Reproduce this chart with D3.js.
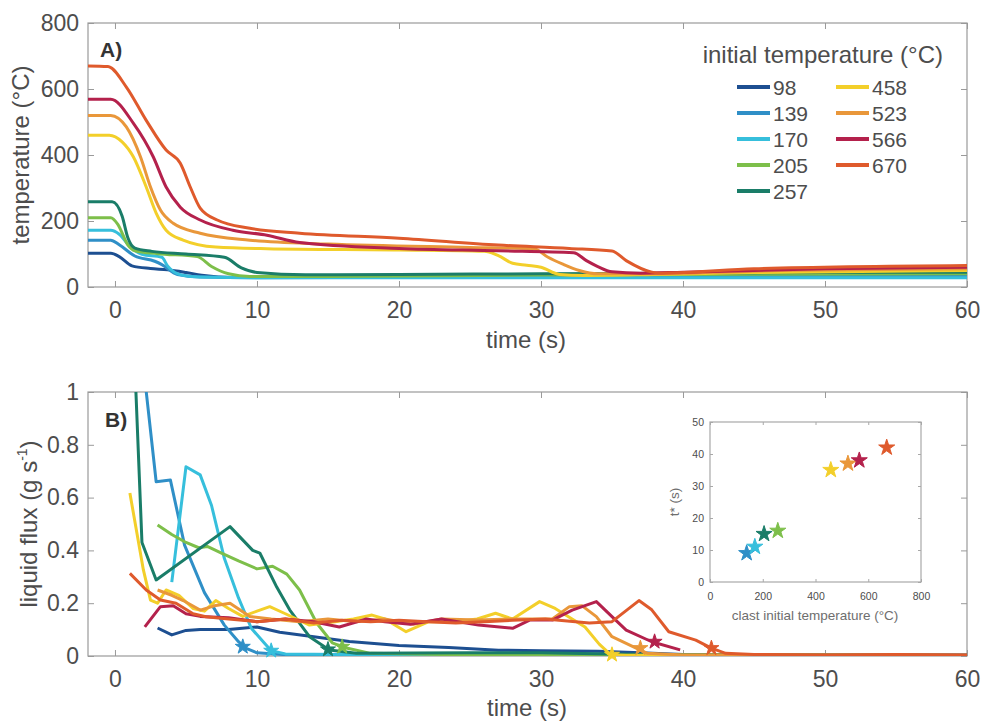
<!DOCTYPE html>
<html lang="en">
<head>
<meta charset="utf-8">
<title>Clast temperature and liquid flux</title>
<script src="https://cdn.jsdelivr.net/npm/d3@7"></script>
<style>
  body { margin: 0; background: #fff; }
  text { font-family: "Liberation Sans", Arial, Helvetica, sans-serif; fill: #4d4d4d; }
</style>
</head>
<body>
<svg class="chart" width="981" height="724"></svg>
<script>
// initial clast temperatures (legend) and their colours
var labels = ["98", "139", "170", "205", "257", "458", "523", "566", "670"];
var colors = ["#1d4f91", "#2f8fc7", "#36bfdc", "#7dbf4a", "#1a7d68",
              "#f3cf2a", "#e9973a", "#b4214c", "#df5a2c"];

// panel A: temperature (°C) vs time (s)
var temp98  = [[-1.9,102],[-0.3,102],[0.3,92],[1.2,64],[2.5,56],[3.7,52],[5,44],[6.1,36],[8.4,29],[12,30],[20,33],[30,34],[40,35],[50,35],[60,35]];
var temp139 = [[-1.9,142],[-0.3,142],[0.3,128],[1.4,94],[2.8,78],[3.3,68],[4.4,38],[6,30],[10,28],[20,29],[30,30],[40,31],[50,32],[60,32]];
var temp170 = [[-1.9,172],[-0.3,172],[0.3,160],[1,125],[1.9,99],[3.3,90],[3.7,64],[4.7,36],[6,30],[10,28],[30,28],[60,28]];
var temp205 = [[-1.9,210],[-0.3,210],[0.2,190],[0.9,128],[1.4,110],[3,101],[5.8,92],[6.8,62],[8,40],[9.5,32],[15,32],[30,36],[40,38],[60,40]];
var temp257 = [[-1.9,258],[-0.2,258],[0.5,215],[0.9,150],[1.4,118],[2.6,108],[5,100],[7.7,90],[8.9,58],[10,44],[13.4,37],[20,38],[30,40],[40,42],[50,44],[60,45]];
var temp458 = [[-1.9,460],[-0.4,460],[0.5,440],[1.3,394],[2.2,303],[2.9,224],[3.6,172],[4.8,142],[7.1,121],[10.7,116],[20,112],[26,108],[27,95],[28,72],[29,66],[30,60],[31.3,38],[33,35],[38,38],[45,44],[60,50]];
var temp523 = [[-1.9,520],[-0.3,520],[0.8,485],[1.8,394],[2.5,303],[3.2,233],[4.1,193],[6,163],[9.5,142],[15,130],[25,120],[29.5,116],[30.5,90],[31.5,70],[32.7,50],[34,40],[38,40],[45,48],[60,55]];
var temp566 = [[-1.9,569],[-0.3,569],[1.3,496],[2.7,394],[3.6,303],[4.6,242],[6,203],[8.3,172],[10.7,157],[13,135],[20,117],[27,110],[32.3,104],[33.2,80],[34,62],[35,46],[37,42],[40,45],[50,55],[60,60]];
var temp670 = [[-1.9,670],[-0.5,668],[0.8,606],[2.2,505],[3.6,415],[4.6,375],[5.3,303],[6,239],[7.2,203],[9.5,178],[13,163],[20,148],[27,127],[32,117],[35,109],[36,80],[37.8,45],[38.5,42],[45,55],[60,65]];

// panel B: liquid flux (g/s) vs time (s)
var flux98  = [[3,0.106],[4,0.08],[5,0.097],[6,0.1],[8,0.1],[10,0.11],[11.6,0.09],[14,0.073],[16.5,0.055],[20,0.04],[23.5,0.032],[27,0.022],[30,0.02],[34,0.018],[37,0.012],[40,0.006],[50,0.004],[60,0.004]];
var flux139 = [[2.1,1.05],[2.9,0.66],[3.9,0.667],[4.9,0.42],[6.3,0.24],[7.7,0.117],[8.7,0.054],[9.2,0.03],[10,0.012],[12,0.005],[20,0.003],[60,0.002]];
var flux170 = [[4.0,0.28],[5.0,0.717],[6.0,0.686],[6.8,0.57],[7.7,0.37],[8.7,0.22],[9.6,0.105],[10.5,0.05],[11,0.02],[12,0.008],[20,0.004],[60,0.002]];
var flux205 = [[3.0,0.496],[4,0.46],[5,0.43],[5.9,0.41],[6.5,0.415],[7.5,0.39],[8.7,0.36],[10,0.33],[11.1,0.34],[12.1,0.31],[13,0.25],[14.2,0.125],[15.3,0.05],[16.3,0.03],[18,0.01],[25,0.004],[60,0.002]];
var flux257 = [[1.4,1.1],[1.9,0.43],[2.9,0.288],[8.1,0.49],[9.7,0.4],[10.2,0.39],[11.4,0.26],[12.3,0.175],[13.7,0.073],[15.1,0.023],[17,0.01],[25,0.012],[30,0.012],[35,0.008],[40,0.005],[60,0.003]];
var flux458 = [[1.05,0.617],[2.0,0.326],[2.5,0.212],[3,0.2],[3.6,0.25],[4.5,0.23],[5.5,0.18],[6.3,0.17],[7.1,0.21],[8,0.18],[9,0.15],[10,0.17],[10.9,0.187],[12,0.16],[13.7,0.117],[15.5,0.13],[16.8,0.14],[18.1,0.155],[19,0.14],[20.5,0.092],[22.1,0.13],[24,0.13],[25.5,0.14],[26.8,0.162],[28,0.14],[29.9,0.206],[31,0.18],[33.1,0.11],[34.1,0.045],[34.9,0.005],[36,0.003],[60,0.002]];
var flux523 = [[3,0.25],[4,0.23],[4.8,0.21],[6,0.174],[7,0.19],[8.1,0.2],[9.5,0.15],[11,0.14],[13,0.13],[15,0.14],[17,0.13],[19,0.14],[21,0.12],[23,0.14],[25.6,0.136],[28,0.14],[30.8,0.14],[32,0.187],[32.9,0.19],[33.9,0.149],[35,0.073],[36.7,0.03],[37.5,0.01],[40,0.004],[60,0.003]];
var flux566 = [[2.1,0.11],[3.2,0.187],[4.1,0.19],[5,0.16],[6,0.15],[8,0.145],[10,0.13],[12,0.14],[14,0.13],[15.8,0.11],[17.7,0.14],[19,0.13],[20.8,0.12],[23,0.14],[25.6,0.117],[28,0.105],[29.2,0.136],[30.8,0.136],[32.2,0.174],[33.9,0.206],[35,0.149],[36,0.098],[37.8,0.054],[39.8,0.023]];
var flux670 = [[1.05,0.313],[2.2,0.25],[3.2,0.212],[4.3,0.2],[5.5,0.16],[6.4,0.149],[8,0.14],[10,0.13],[12,0.14],[14,0.125],[16,0.135],[18,0.13],[20,0.135],[22,0.13],[24,0.125],[26,0.13],[28,0.135],[30.3,0.14],[33.4,0.125],[35,0.13],[36.9,0.21],[37.8,0.175],[39,0.092],[40.9,0.06],[42,0.03],[43,0.01],[45,0.006],[50,0.004],[55,0.006],[60,0.004]];

// t* star markers (series index, time, flux)
var starSeries = [1, 2, 3, 4, 5, 6, 7, 8];
var starTime   = [9, 11, 16, 15, 35, 37, 38, 42];
var starFlux   = [0.035, 0.02, 0.035, 0.025, 0.005, 0.03, 0.054, 0.03];

// inset: t* vs clast initial temperature
var insetTemp   = [139, 170, 205, 257, 458, 523, 566, 670];
var insetTstar  = [9, 11, 15, 16, 35, 37, 38, 42];
var insetSeries = [1, 2, 4, 3, 5, 6, 7, 8];

var tempTicks = [0, 200, 400, 600, 800];
var fluxTicks = [0, 0.2, 0.4, 0.6, 0.8, 1];
var timeTicks = [0, 10, 20, 30, 40, 50, 60];
var insetXTicks = [0, 200, 400, 600, 800];
var insetYTicks = [0, 10, 20, 30, 40, 50];

var tempSeries = [temp98, temp139, temp170, temp205, temp257, temp458, temp523, temp566, temp670];
var fluxSeries = [flux98, flux139, flux170, flux205, flux257, flux458, flux523, flux566, flux670];

var svg = d3.select("svg.chart");
var left = 88, right = 967;

var x = d3.scaleLinear().domain([-1.9, 60]).range([left, right]);
var yA = d3.scaleLinear().domain([0, 800]).range([287, 23]);
var yB = d3.scaleLinear().domain([0, 1]).range([656, 392]);

// box with inward ticks on all four sides
function frame(g, xs, ys, xt, yt, o) {
  var x0 = xs.range()[0], x1 = xs.range()[1], y0 = ys.range()[0], y1 = ys.range()[1];
  g.append("g").attr("transform", "translate(0," + y0 + ")")
    .call(d3.axisBottom(xs).tickValues(xt).tickSizeInner(-o.tick).tickSizeOuter(0)
      .tickPadding(o.padX).tickFormat(o.fmtX || d3.format("")));
  g.append("g").attr("transform", "translate(0," + y1 + ")")
    .call(d3.axisTop(xs).tickValues(xt).tickSizeInner(-o.tick).tickSizeOuter(0).tickFormat(""));
  g.append("g").attr("transform", "translate(" + x0 + ",0)")
    .call(d3.axisLeft(ys).tickValues(yt).tickSizeInner(-o.tick).tickSizeOuter(0)
      .tickPadding(o.padY).tickFormat(o.fmtY || d3.format("")));
  g.append("g").attr("transform", "translate(" + x1 + ",0)")
    .call(d3.axisRight(ys).tickValues(yt).tickSizeInner(-o.tick).tickSizeOuter(0).tickFormat(""));
  g.selectAll(".domain").remove();
  g.selectAll(".tick line").attr("stroke", o.stroke);
  g.selectAll(".tick text").attr("font-size", o.font).attr("fill", o.color)
    .attr("font-family", '"Liberation Sans", Arial, sans-serif');
  g.append("rect").attr("x", x0).attr("y", y1).attr("width", x1 - x0).attr("height", y0 - y1)
    .attr("fill", "none").attr("stroke", o.stroke).attr("stroke-width", 1.2);
}

var mainOpts = { tick: 6, padX: 15, padY: 9, font: 23, color: "#4d4d4d", stroke: "#9a9a9a" };

// clip paths
var defs = svg.append("defs");
defs.append("clipPath").attr("id", "clipA").append("rect")
  .attr("x", left).attr("y", 23).attr("width", right - left).attr("height", 264);
defs.append("clipPath").attr("id", "clipB").append("rect")
  .attr("x", left).attr("y", 392).attr("width", right - left).attr("height", 264);

// ---- panel A ----
var gA = svg.append("g");
frame(gA, x, yA, timeTicks, tempTicks, mainOpts);

var lineA = d3.line().curve(d3.curveMonotoneX)
  .x(function(d) { return x(d[0]); })
  .y(function(d) { return yA(d[1]); });

gA.append("g").attr("clip-path", "url(#clipA)")
  .selectAll("path").data(tempSeries).enter().append("path")
  .attr("d", lineA)
  .attr("fill", "none")
  .attr("stroke", function(d, i) { return colors[i]; })
  .attr("stroke-width", 3)
  .attr("stroke-linejoin", "round");

gA.append("text").attr("x", 100).attr("y", 57).attr("font-size", 21)
  .attr("font-weight", "bold").style("fill", "#333").text("A)");

gA.append("text").attr("x", 526).attr("y", 348).attr("text-anchor", "middle")
  .attr("font-size", 24).text("time (s)");
gA.append("text").attr("transform", "translate(29,155) rotate(-90)")
  .attr("text-anchor", "middle").attr("font-size", 24).text("temperature (°C)");

// legend
var legend = gA.append("g");
legend.append("text").attr("x", 943).attr("y", 63).attr("text-anchor", "end")
  .attr("font-size", 24).text("initial temperature (°C)");
var items = legend.selectAll("g.item").data(labels).enter().append("g").attr("class", "item")
  .attr("transform", function(d, i) {
    var col = i < 5 ? 0 : 1, row = i < 5 ? i : i - 5;
    return "translate(" + (737 + col * 99) + "," + (87 + row * 26) + ")";
  });
items.append("line").attr("x1", 0).attr("x2", 33)
  .attr("stroke", function(d, i) { return colors[i]; }).attr("stroke-width", 4);
items.append("text").attr("x", 36).attr("dy", "0.36em").attr("font-size", 21)
  .text(function(d) { return d; });

// ---- panel B ----
var gB = svg.append("g");
frame(gB, x, yB, timeTicks, fluxTicks, mainOpts);

var lineB = d3.line()
  .x(function(d) { return x(d[0]); })
  .y(function(d) { return yB(d[1]); });

gB.append("g").attr("clip-path", "url(#clipB)")
  .selectAll("path").data(fluxSeries).enter().append("path")
  .attr("d", lineB)
  .attr("fill", "none")
  .attr("stroke", function(d, i) { return colors[i]; })
  .attr("stroke-width", 3)
  .attr("stroke-linejoin", "round");

var star = d3.symbol().type(d3.symbolStar);
gB.append("g").selectAll("path").data(starSeries).enter().append("path")
  .attr("d", star.size(70)())
  .attr("transform", function(d, i) { return "translate(" + x(starTime[i]) + "," + yB(starFlux[i]) + ")"; })
  .attr("fill", function(d) { return colors[d]; })
  .attr("stroke", function(d) { return colors[d]; })
  .attr("stroke-width", 1);

gB.append("text").attr("x", 105).attr("y", 427).attr("font-size", 21)
  .attr("font-weight", "bold").style("fill", "#333").text("B)");

gB.append("text").attr("x", 527).attr("y", 716).attr("text-anchor", "middle")
  .attr("font-size", 24).text("time (s)");
var yl = gB.append("text").attr("transform", "translate(37,524) rotate(-90)")
  .attr("text-anchor", "middle").attr("font-size", 24);
yl.append("tspan").text("liquid flux (g s");
yl.append("tspan").attr("font-size", 14).attr("dy", -10).text("-1");
yl.append("tspan").attr("dy", 10).text(")");

// ---- inset ----
var xi = d3.scaleLinear().domain([0, 800]).range([710, 921]);
var yi = d3.scaleLinear().domain([0, 50]).range([582, 422]);
var gI = svg.append("g");
gI.append("rect").attr("x", 710).attr("y", 422).attr("width", 211).attr("height", 160).attr("fill", "#fff");
frame(gI, xi, yi, insetXTicks, insetYTicks,
  { tick: 3, padX: 11, padY: 6, font: 10.5, color: "#6e6e6e", stroke: "#a8a8a8" });

gI.append("g").selectAll("path").data(insetSeries).enter().append("path")
  .attr("d", star.size(80)())
  .attr("transform", function(d, i) { return "translate(" + xi(insetTemp[i]) + "," + yi(insetTstar[i]) + ")"; })
  .attr("fill", function(d) { return colors[d]; })
  .attr("stroke", function(d) { return colors[d]; })
  .attr("stroke-width", 1);

gI.append("text").attr("x", 815).attr("y", 620).attr("text-anchor", "middle")
  .attr("font-size", 13.5).style("fill", "#6e6e6e").text("clast initial temperature (°C)");
gI.append("text").attr("transform", "translate(679,502) rotate(-90)")
  .attr("text-anchor", "middle").attr("font-size", 13.5).style("fill", "#6e6e6e").text("t* (s)");
</script>
</body>
</html>
